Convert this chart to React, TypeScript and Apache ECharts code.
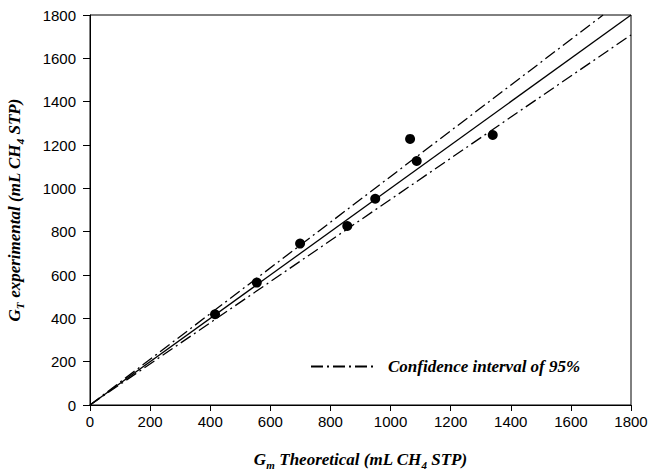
import React, { useEffect, useRef } from "react";
import * as echarts from "echarts";

const gmTheoretical = [416, 555, 699, 856, 949, 1065, 1087, 1340];
const gtExperimental = [419, 565, 745, 826, 952, 1228, 1126, 1246];

const fitX = [0, 1800];
const fitY = [0, 1800];
const ciUpperX = [0, 1707];
const ciUpperY = [0, 1800];
const ciLowerX = [0, 1800];
const ciLowerY = [0, 1708];

const legendLabel = "Confidence interval of 95%";

const pairs = (xs: number[], ys: number[]) => xs.map((x, i) => [x, ys[i]]);

const serif = "'Liberation Serif', 'Times New Roman', serif";
const sans = "'Liberation Sans', Arial, sans-serif";

const richTitle = {
  m: { fontFamily: serif, fontWeight: "bold", fontStyle: "italic", fontSize: 17, color: "#000", lineHeight: 22 },
  s: { fontFamily: serif, fontWeight: "bold", fontStyle: "italic", fontSize: 11, color: "#000", lineHeight: 15, verticalAlign: "bottom" },
};

const dashDot = [12, 4, 2, 4];

export default function App() {
  const ref = useRef<HTMLDivElement>(null);
  useEffect(() => {
    if (!ref.current) return;
    const chart = echarts.init(ref.current, undefined, { renderer: "svg" });
    chart.setOption({
      animation: false,
      backgroundColor: "#fff",
      grid: {
        left: 90,
        right: 17,
        top: 15,
        bottom: 67,
        containLabel: false,
        outerBoundsMode: "none",
        show: true,
        borderColor: "#000",
        borderWidth: 1,
      },
      legend: {
        data: [legendLabel],
        left: 305,
        top: 353,
        itemWidth: 64,
        itemHeight: 12,
        itemGap: 14,
        itemStyle: { opacity: 0 },
        textStyle: { fontFamily: serif, fontWeight: "bold", fontStyle: "italic", fontSize: 17, color: "#000", padding: [0, 0, 0, 8] },
      },
      xAxis: {
        type: "value",
        min: 0,
        max: 1800,
        interval: 200,
        name: "{m|G}{s|m}{m| Theoretical (mL CH}{s|4}{m| STP)}",
        nameLocation: "middle",
        nameGap: 43,
        nameTextStyle: { rich: richTitle },
        axisLine: { show: true, lineStyle: { color: "#000", width: 1 } },
        axisTick: { show: true, inside: false, length: 6, lineStyle: { color: "#000" } },
        axisLabel: { color: "#000", fontFamily: sans, fontSize: 15, margin: 9, formatter: (v: number) => String(v) },
        splitLine: { show: false },
      },
      yAxis: {
        type: "value",
        min: 0,
        max: 1800,
        interval: 200,
        name: "{m|G}{s|T}{m| experimental (mL CH}{s|4}{m| STP)}",
        nameLocation: "middle",
        nameGap: 65,
        nameRotate: 90,
        nameTextStyle: { rich: richTitle },
        axisLine: { show: true, lineStyle: { color: "#000", width: 1 } },
        axisTick: { show: true, inside: false, length: 7, lineStyle: { color: "#000" } },
        axisLabel: { color: "#000", fontFamily: sans, fontSize: 15, margin: 14, formatter: (v: number) => String(v) },
        splitLine: { show: false },
      },
      series: [
        {
          type: "line",
          name: "fit",
          data: pairs(fitX, fitY),
          symbol: "none",
          lineStyle: { color: "#000", width: 1.3, type: "solid" },
          silent: true,
        },
        {
          type: "line",
          name: legendLabel,
          data: pairs(ciUpperX, ciUpperY),
          symbol: "none",
          lineStyle: { color: "#000", width: 1.3, type: dashDot },
          itemStyle: { color: "#000" },
        },
        {
          type: "line",
          name: legendLabel,
          data: pairs(ciLowerX, ciLowerY),
          symbol: "none",
          lineStyle: { color: "#000", width: 1.3, type: dashDot },
          itemStyle: { color: "#000" },
        },
        {
          type: "scatter",
          name: "data",
          data: pairs(gmTheoretical, gtExperimental),
          symbol: "circle",
          symbolSize: 10,
          itemStyle: { color: "#000", opacity: 1 },
        },
      ],
    });
    return () => chart.dispose();
  }, []);
  return <div ref={ref} style={{ width: 648, height: 472, position: "absolute", left: 0, top: 0 }} />;
}
